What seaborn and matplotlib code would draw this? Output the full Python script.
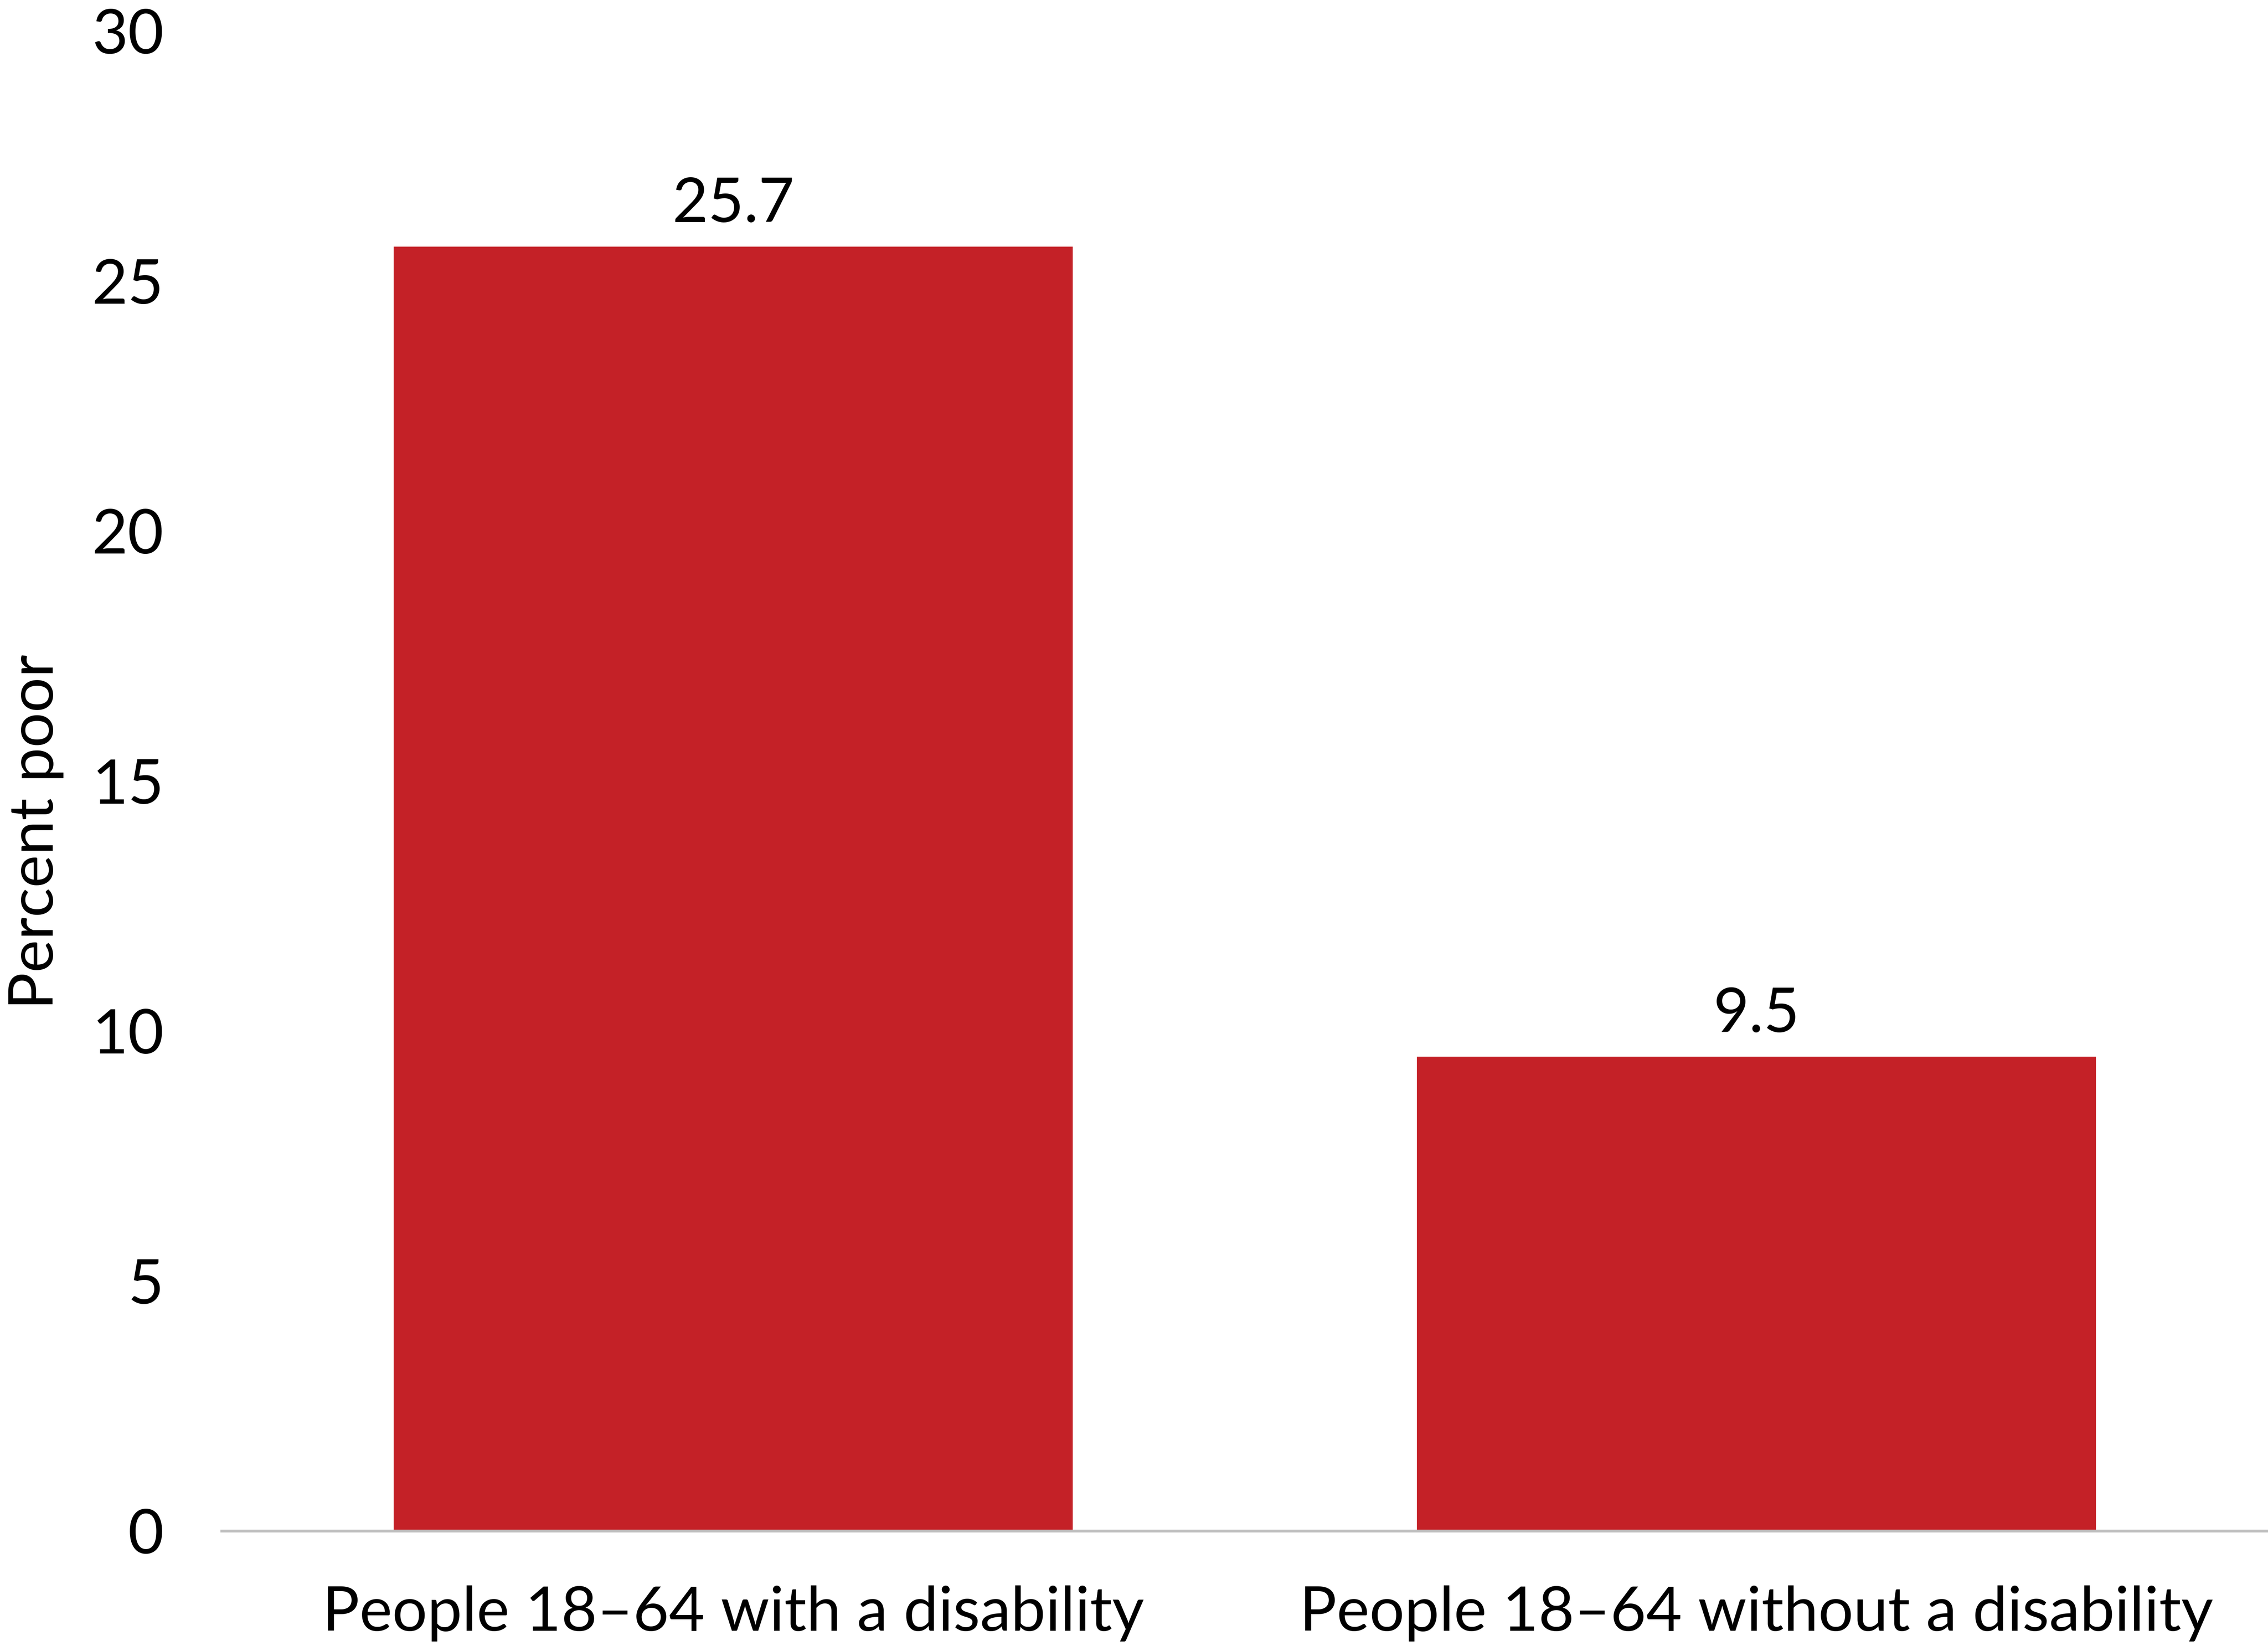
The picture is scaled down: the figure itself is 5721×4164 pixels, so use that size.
import matplotlib
matplotlib.use("Agg")
import matplotlib.pyplot as plt
import seaborn as sns
import pandas as pd

# Data
groups = ["People 18\u201364 with a disability", "People 18\u201364 without a disability"]
percent_poor = [25.7, 9.5]
y_ticks = [0, 5, 10, 15, 20, 25, 30]

df = pd.DataFrame({"Group": groups, "Percent": percent_poor})

sns.set_theme(style="white")
plt.rcParams["font.family"] = ["Lato", "DejaVu Sans"]

fig = plt.figure(figsize=(5721 / 300, 4164 / 300), dpi=300)
ax = fig.add_axes([0.0977, 0.0728, 0.9023, 0.9085])

sns.barplot(data=df, x="Group", y="Percent", color="#C42127", width=0.665,
            saturation=1, ax=ax)

# value labels above bars
for container in ax.containers:
    ax.bar_label(container, fmt="%.1f", padding=8, fontsize=37.5, color="black")

ax.set_ylim(0, 30)
ax.set_xlim(-0.5, 1.5)
ax.set_yticks(y_ticks)
ax.set_ylabel("Percent poor", fontsize=37.5, color="black")
ax.yaxis.set_label_coords(-0.077, 0.466)
ax.set_xlabel("")

ax.tick_params(axis="y", length=0, pad=35, labelsize=37.5, labelcolor="black")
ax.tick_params(axis="x", length=0, pad=33, labelsize=37.5, labelcolor="black")

for side in ["top", "right", "left"]:
    ax.spines[side].set_visible(False)
ax.spines["bottom"].set_color("#BFBFBF")
ax.spines["bottom"].set_linewidth(1.7)
ax.grid(False)

plt.savefig("out.png", dpi=300)
plt.close()
